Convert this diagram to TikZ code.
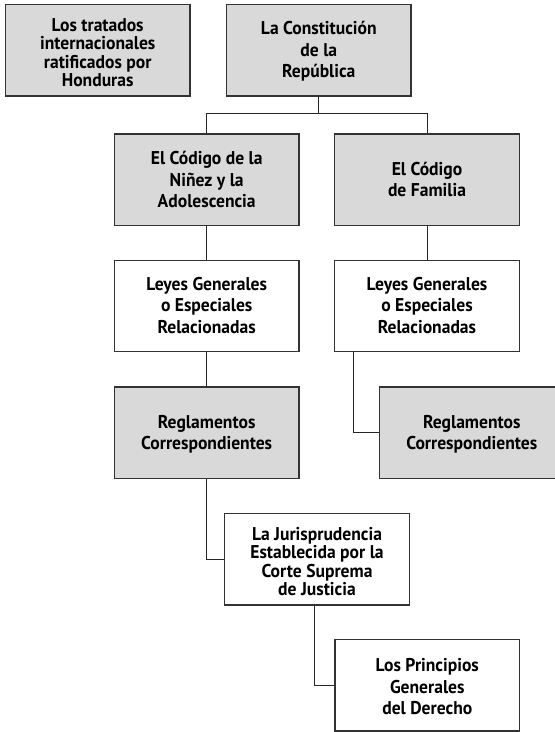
\documentclass[tikz,border=0pt]{standalone}
\usepackage{fontspec}
\setmainfont{PT Sans}[FakeStretch=0.95]
\newcommand\bxt[2]{\raisebox{-#1pt}[\height][\depth]{\begin{tabular}{@{}c@{}}#2\end{tabular}}}
\begin{document}
\begin{tikzpicture}[x=1pt,y=-1pt,
  lbox/.style={draw=black!80,line width=1.2pt,minimum width=184.5pt,minimum height=91.5pt,
    inner sep=0pt,align=center,font=\fontsize{18.5}{21.7}\selectfont\bfseries,text=black},
  tight/.style={font=\fontsize{18.5}{18}\selectfont\bfseries},
  grey/.style={lbox,fill=black!15},
  white/.style={lbox,fill=white},
  conn/.style={draw=black!85,line width=0.9pt}]
\useasboundingbox (0,0) rectangle (555,732);
\clip (0,0) rectangle (555,732);
\node[grey,tight] (trat) at (97.7,50.3) {\bxt{5}{Los tratados\\internacionales\\ratificados por\\Honduras}};
\node[grey] (const) at (318.8,50.3) {\bxt{1.5}{La Constitución\\de la\\República}};
\node[grey] (ninez) at (206.7,179.7) {\bxt{2}{El Código de la\\Niñez y la\\Adolescencia}};
\node[grey] (fam) at (427,179.7) {\bxt{2}{El Código\\de Familia}};
\node[white] (ley1) at (206.7,306) {\bxt{1.5}{Leyes Generales\\o Especiales\\Relacionadas}};
\node[white] (ley2) at (427,306) {\bxt{1.5}{Leyes Generales\\o Especiales\\Relacionadas}};
\node[grey] (reg1) at (206.7,432.7) {\bxt{2}{Reglamentos\\Correspondientes}};
\node[grey] (reg2) at (471.8,432.7) {\bxt{2}{Reglamentos\\Correspondientes}};
\node[white,tight] (jur) at (317,559.2) {\bxt{5}{La Jurisprudencia\\Establecida por la\\Corte Suprema\\de Justicia}};
\node[white] (prin) at (427.3,685.3) {\bxt{3.5}{Los Principios\\Generales\\del Derecho}};
\coordinate (j) at (318.8,113.3);
\draw[conn] (const.south) -- (j);
\draw[conn] (ninez.north) |- (j) -| (fam.north);
\draw[conn] (ninez.south) -- (ley1.north);
\draw[conn] (fam.south) -- (ley2.north);
\draw[conn] (ley1.south) -- (reg1.north);
\draw[conn] ([xshift=19pt]ley2.south west) |- (reg2.west);
\draw[conn] (reg1.south) |- (jur.west);
\draw[conn] ([xshift=-3pt]jur.south) |- (prin.west);
\end{tikzpicture}
\end{document}
